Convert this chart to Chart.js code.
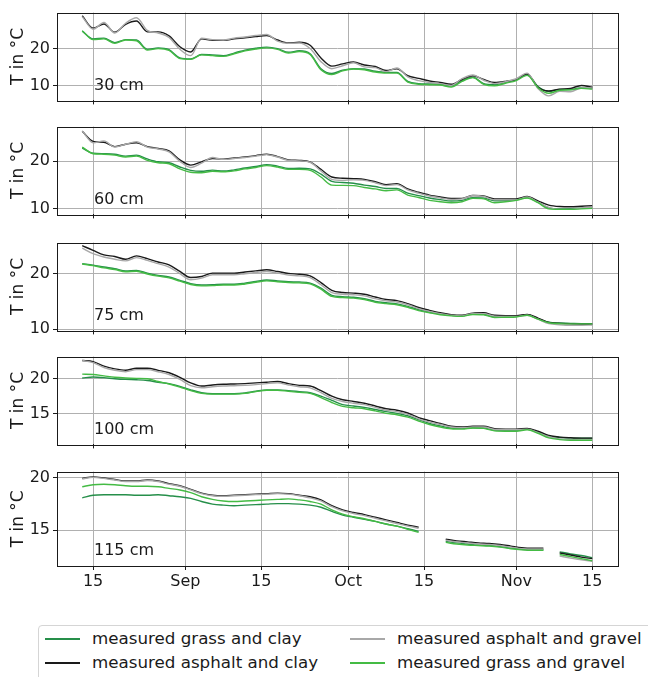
<!DOCTYPE html>
<html>
<head>
<meta charset="utf-8">
<script src="https://cdn.jsdelivr.net/npm/chart.js@4.4.1/dist/chart.umd.min.js"></script>
<style>
  body { margin: 0; background: #fff; width: 648px; height: 677px; overflow: hidden; position: relative; font-family: "DejaVu Sans", sans-serif; }
  canvas.panel { position: absolute; left: 0; }
  #legend { position: absolute; left: 38px; top: 625px; width: 640px; height: 64px; border: 1px solid #d5d5d5; border-radius: 4px; background: #fff; }
  #legend .row { position: absolute; height: 0; }
  #legend .swatch { position: absolute; width: 35px; top: -1px; height: 2px; }
  #legend .txt { position: absolute; top: -11px; font-size: 16.7px; line-height: 21px; color: #1a1a1a; white-space: nowrap; }
</style>
</head>
<body>
<canvas id="p30" class="panel"></canvas>
<canvas id="p60" class="panel"></canvas>
<canvas id="p75" class="panel"></canvas>
<canvas id="p100" class="panel"></canvas>
<canvas id="p115" class="panel"></canvas>
<div id="legend"></div>

<script>
// ---- data ----
// days relative to 15 Aug
const days = [-2,0,2,4,6,8,10,12,14,16,18,20,22,24,26,28,30,32,34,36,38,40,42,44,46,48,50,52,54,56,58,60,62,64,66,68,70,72,74,76,78,80,82,84,86,88,90,92];
// 115 cm has gaps in the record
const days115 = [-2,0,2,4,6,8,10,12,14,16,18,20,22,24,26,28,30,32,34,36,38,40,42,44,46,48,50,52,54,56,58,60,62,65,67,69,71,73,75,77,79,81,83,84.5,86,88,90,92];

const xTicks = [0, 17, 31, 47, 61, 78, 92];
const xTickLabels = ['15', 'Sep', '15', 'Oct', '15', 'Nov', '15'];

const seriesNames = ['measured grass and clay', 'measured asphalt and clay', 'measured asphalt and gravel', 'measured grass and gravel'];
const seriesColors = ['#268f4a', '#1a1a1a', '#a8a8a8', '#44bb44'];

// 30 cm
const grassClay30 = [24.7,22.6,22.8,21.6,22.4,22.3,19.8,20.2,19.7,17.5,17.2,18.4,18.3,18.1,18.8,19.6,20.1,20.4,20.0,19.0,19.4,18.6,14.6,13.3,14.2,14.6,14.5,13.9,13.6,13.6,11.2,10.6,10.5,10.4,10.0,11.4,12.3,10.6,10.3,10.9,11.6,13.0,9.8,8.5,9.0,9.0,9.5,9.3];
const asphaltClay30 = [28.8,25.5,26.6,24.4,26.5,27.4,24.5,24.5,23.4,20.5,19.1,22.6,22.2,22.2,22.6,22.9,23.25,23.5,22.3,21.5,21.7,20.9,17.5,15.3,15.9,16.4,15.6,15.2,14.1,14.6,12.7,12.0,11.3,10.9,10.4,11.7,12.7,11.7,10.9,11.2,11.75,13.2,9.6,8.6,9.1,9.3,10.1,9.6];
const asphaltGravel30 = [28.6,25.2,27.0,24.2,26.8,28.3,24.9,24.2,23.0,19.8,18.1,22.8,22.4,22.3,22.8,23.1,23.5,23.8,22.0,21.4,21.5,20.0,16.5,14.6,15.4,16.2,15.1,14.9,13.8,14.8,12.4,11.4,10.9,10.6,10.1,11.9,12.9,11.5,10.6,11.1,11.9,13.4,9.3,7.3,8.5,8.4,9.4,9.4];
const grassGravel30 = [24.8,22.4,22.6,21.4,22.3,22.1,19.6,20.0,19.5,17.3,17.1,18.3,18.1,17.9,18.6,19.4,19.9,20.2,19.8,18.8,19.2,18.4,14.3,13.0,14.0,14.5,14.3,13.7,13.4,13.4,11.0,10.4,10.3,10.2,9.7,11.2,12.2,10.4,10.0,10.7,11.4,12.8,9.5,8.0,8.8,8.9,9.3,9.1];

// 60 cm
const grassClay60 = [22.8,21.7,21.6,21.5,21.1,21.3,20.5,19.9,19.7,18.8,18.1,17.9,18.15,17.95,18.2,18.6,18.9,19.3,19.0,18.5,18.55,18.4,17.3,15.8,15.55,15.4,15.0,14.7,14.3,14.3,13.3,12.8,12.3,11.95,11.65,11.8,12.35,12.3,11.7,11.75,11.95,12.4,11.4,10.2,10.0,10.05,10.15,10.2];
const asphaltClay60 = [26.3,24.2,24.0,23.1,23.6,23.9,23.1,22.7,22.2,20.3,19.2,19.9,20.6,20.45,20.7,20.9,21.2,21.5,21.0,20.3,20.2,19.9,18.3,16.7,16.45,16.35,16.2,15.7,15.1,15.3,14.2,13.5,12.9,12.5,12.2,12.2,12.8,12.7,12.1,12.1,12.1,12.6,11.7,10.8,10.5,10.45,10.55,10.65];
const asphaltGravel60 = [26.4,23.9,24.3,23.0,23.6,24.1,23.0,22.6,22.0,20.0,18.7,19.6,20.8,20.4,20.6,20.8,21.1,21.4,20.9,20.2,20.1,19.8,18.0,16.2,16.0,16.1,16.0,15.5,14.9,15.1,14.0,13.3,12.7,12.3,12.0,12.1,12.8,12.6,11.9,11.9,11.9,12.5,11.4,10.3,9.9,9.9,10.2,10.4];
const grassGravel60 = [23.0,21.6,21.5,21.3,20.9,21.1,20.2,19.7,19.5,18.4,17.7,17.6,17.9,17.8,18.0,18.4,18.7,19.1,18.8,18.3,18.3,18.1,16.7,15.0,14.95,14.9,14.5,14.2,13.8,14.0,12.9,12.4,11.8,11.5,11.3,11.5,12.2,12.1,11.3,11.5,11.8,12.3,11.3,10.0,9.9,9.9,10.0,10.1];

// 75 cm
const grassClay75 = [21.8,21.55,21.2,20.9,20.5,20.6,20.1,19.7,19.4,18.8,18.2,17.95,18.0,18.1,18.1,18.3,18.6,18.85,18.7,18.55,18.5,18.3,17.4,16.1,15.85,15.75,15.5,15.0,14.75,14.55,14.1,13.5,13.1,12.75,12.5,12.4,12.75,12.7,12.2,12.25,12.3,12.6,11.9,11.25,11.1,11.05,11.0,11.0];
const asphaltClay75 = [25.05,24.2,23.4,23.1,22.6,23.2,22.7,22.1,21.6,20.4,19.3,19.5,20.1,20.1,20.1,20.3,20.5,20.7,20.4,20.05,19.9,19.6,18.4,17.0,16.6,16.5,16.3,15.8,15.35,15.15,14.6,13.9,13.4,12.95,12.6,12.5,12.9,12.95,12.5,12.45,12.45,12.65,12.0,11.2,11.05,10.95,10.9,10.9];
const asphaltGravel75 = [24.6,23.6,23.0,22.6,22.3,22.9,22.4,21.8,21.2,20.0,18.9,19.2,19.8,19.8,19.8,20.0,20.2,20.4,20.1,19.75,19.6,19.3,18.0,16.6,16.3,16.2,16.0,15.5,15.1,14.9,14.4,13.7,13.2,12.8,12.5,12.4,12.8,12.8,12.35,12.3,12.3,12.5,11.8,11.0,10.8,10.7,10.7,10.75];
const grassGravel75 = [21.75,21.45,21.05,20.75,20.35,20.45,19.95,19.55,19.25,18.65,18.05,17.8,17.85,17.95,17.95,18.15,18.45,18.7,18.55,18.4,18.35,18.15,17.2,15.9,15.7,15.6,15.35,14.85,14.6,14.4,13.95,13.35,12.95,12.6,12.4,12.3,12.65,12.6,12.1,12.15,12.2,12.5,11.8,11.15,11.0,10.95,10.95,10.95];

// 100 cm
const grassClay100 = [20.1,20.25,20.15,20.0,19.9,19.85,19.75,19.5,19.3,18.9,18.4,18.0,17.85,17.85,17.85,17.95,18.2,18.4,18.4,18.3,18.15,18.0,17.5,16.9,16.3,16.1,15.9,15.6,15.3,15.05,14.7,14.15,13.6,13.25,12.95,12.9,13.0,12.95,12.65,12.6,12.6,12.8,12.4,11.8,11.6,11.5,11.5,11.5];
const asphaltClay100 = [22.6,22.45,21.8,21.4,21.2,21.5,21.5,21.2,20.85,20.2,19.4,18.95,19.1,19.2,19.25,19.3,19.4,19.5,19.6,19.3,19.05,18.95,18.3,17.5,17.0,16.75,16.5,16.1,15.7,15.5,15.1,14.45,14.0,13.6,13.2,13.1,13.2,13.2,12.85,12.8,12.8,12.9,12.5,11.9,11.65,11.55,11.5,11.5];
const asphaltGravel100 = [22.6,22.3,21.6,21.2,21.0,21.3,21.3,21.0,20.6,19.9,19.0,18.7,18.85,18.95,19.0,19.05,19.15,19.3,19.4,19.1,18.85,18.7,18.0,17.2,16.75,16.5,16.3,15.9,15.5,15.3,14.9,14.25,13.8,13.45,13.1,13.0,13.1,13.1,12.75,12.7,12.7,12.8,12.3,11.7,11.4,11.3,11.25,11.25];
const grassGravel100 = [20.65,20.6,20.4,20.2,20.1,20.05,20.0,19.6,19.25,18.8,18.3,17.9,17.8,17.8,17.8,17.9,18.15,18.35,18.35,18.2,18.05,17.9,17.3,16.6,16.05,15.85,15.7,15.4,15.05,14.85,14.5,13.95,13.45,13.1,12.85,12.8,12.95,12.9,12.55,12.5,12.5,12.7,12.2,11.55,11.3,11.2,11.2,11.2];

// 115 cm (null = no data)
const grassClay115 = [18.1,18.35,18.4,18.4,18.4,18.35,18.35,18.4,18.3,18.2,18.05,17.75,17.5,17.4,17.35,17.4,17.45,17.5,17.55,17.55,17.5,17.4,17.2,16.8,16.45,16.25,16.05,15.85,15.6,15.4,15.15,14.9,null,13.95,13.8,13.7,13.6,13.55,13.45,13.3,13.2,13.15,13.15,null,12.95,12.75,12.6,12.4];
const asphaltClay115 = [19.95,20.1,20.0,19.85,19.7,19.7,19.8,19.7,19.45,19.25,18.9,18.55,18.35,18.3,18.35,18.4,18.45,18.5,18.55,18.5,18.35,18.2,17.9,17.35,16.95,16.7,16.5,16.25,16.0,15.75,15.5,15.3,null,14.15,14.0,13.9,13.8,13.75,13.65,13.5,13.35,13.3,13.3,null,12.85,12.65,12.45,12.3];
const asphaltGravel115 = [19.9,20.05,19.95,19.8,19.65,19.65,19.75,19.65,19.4,19.2,18.85,18.5,18.3,18.25,18.3,18.35,18.4,18.45,18.5,18.45,18.3,18.1,17.8,17.25,16.85,16.6,16.4,16.15,15.9,15.65,15.4,15.2,null,14.05,13.9,13.8,13.7,13.65,13.55,13.4,13.25,13.2,13.2,null,12.55,12.35,12.2,12.05];
const grassGravel115 = [19.15,19.35,19.4,19.35,19.25,19.2,19.2,19.15,19.0,18.85,18.6,18.2,17.95,17.8,17.75,17.8,17.85,17.9,17.95,18.0,17.9,17.75,17.5,16.95,16.55,16.3,16.1,15.85,15.6,15.4,15.1,14.8,null,13.85,13.7,13.6,13.55,13.5,13.4,13.25,13.15,13.1,13.1,null,12.7,12.5,12.3,12.1];

// ---- layout ----
const X_MIN = -6.65, X_MAX = 96.75;
const PAD_T = 12, PLOT_H = 95, Y_AXIS_W = 57, PAD_R = 30;
const TEXT = '#1a1a1a';
Chart.defaults.font.family = '"DejaVu Sans", sans-serif';
Chart.defaults.font.size = 16;
Chart.defaults.color = TEXT;

// box around the axes + depth label
function panelDecor(depth) {
  return {
    id: 'decor',
    afterDraw(chart) {
      const {ctx, chartArea: a} = chart;
      ctx.save();
      ctx.strokeStyle = '#1a1a1a';
      ctx.lineWidth = 1;
      ctx.strokeRect(Math.round(a.left) + 0.5, Math.round(a.top) + 0.5, Math.round(a.right - a.left), Math.round(a.bottom - a.top));
      ctx.fillStyle = TEXT;
      ctx.font = '16px "DejaVu Sans"';
      ctx.textBaseline = 'middle';
      ctx.fillText(depth, a.left + 37, a.bottom - 15);
      ctx.restore();
    }
  };
}

function buildPanel(id, top, depth, xs, values, yMin, yMax, yTicks, isLast) {
  const xh = isLast ? 34 : 6;
  const canvas = document.getElementById(id);
  canvas.width = 648;
  canvas.height = PAD_T + PLOT_H + xh;
  canvas.style.top = (top - PAD_T) + 'px';

  const datasets = values.map(function(arr, i) {
    return {
      label: seriesNames[i],
      data: xs.map(function(x, j) { return {x: x, y: arr[j]}; }),
      borderColor: seriesColors[i],
      borderWidth: 1.4,
      pointRadius: 0,
      cubicInterpolationMode: 'monotone',
      spanGaps: false,
      order: 4 - i
    };
  });

  new Chart(canvas, {
    type: 'line',
    data: { datasets: datasets },
    options: {
      responsive: false,
      animation: false,
      events: [],
      layout: { padding: { top: PAD_T, right: PAD_R, left: 0, bottom: 0 } },
      plugins: { legend: { display: false }, tooltip: { enabled: false } },
      scales: {
        x: {
          type: 'linear',
          min: X_MIN,
          max: X_MAX,
          afterBuildTicks: function(s) { s.ticks = xTicks.map(function(v) { return {value: v}; }); },
          afterFit: function(s) { s.height = xh; },
          border: { display: false },
          grid: { color: '#b0b0b0', lineWidth: 1, tickLength: 4, tickColor: '#1a1a1a' },
          ticks: {
            display: isLast,
            autoSkip: false,
            maxRotation: 0,
            padding: 2,
            callback: function(v) { return xTickLabels[xTicks.indexOf(v)]; }
          }
        },
        y: {
          min: yMin,
          max: yMax,
          afterBuildTicks: function(s) { s.ticks = yTicks.map(function(v) { return {value: v}; }); },
          afterFit: function(s) { s.width = Y_AXIS_W; },
          border: { display: false },
          grid: { color: '#b0b0b0', lineWidth: 1, tickLength: 4, tickColor: '#1a1a1a' },
          ticks: { padding: 3 },
          title: { display: true, text: 'T in °C', font: { size: 17 }, padding: { top: 8, bottom: 0 } }
        }
      }
    },
    plugins: [panelDecor(depth)]
  });
}

buildPanel('p30', 12, '30 cm', days, [grassClay30, asphaltClay30, asphaltGravel30, grassGravel30], 6.08, 29.67, [10, 20], false);
buildPanel('p60', 126, '60 cm', days, [grassClay60, asphaltClay60, asphaltGravel60, grassGravel60], 8.84, 27.3, [10, 20], false);
buildPanel('p75', 242, '75 cm', days, [grassClay75, asphaltClay75, asphaltGravel75, grassGravel75], 9.78, 25.6, [10, 20], false);
buildPanel('p100', 356, '100 cm', days, [grassClay100, asphaltClay100, asphaltGravel100, grassGravel100], 10.61, 23.16, [15, 20], false);
buildPanel('p115', 471, '115 cm', days115, [grassClay115, asphaltClay115, asphaltGravel115, grassGravel115], 11.6, 20.6, [15, 20], true);

// legend, matplotlib style: two columns filled top to bottom
const legend = document.getElementById('legend');
const legendCols = [6, 311];
const legendRows = [13, 37];
seriesNames.forEach(function(name, i) {
  const row = document.createElement('div');
  row.className = 'row';
  row.style.left = legendCols[Math.floor(i / 2)] + 'px';
  row.style.top = legendRows[i % 2] + 'px';
  const sw = document.createElement('div');
  sw.className = 'swatch';
  sw.style.left = '0px';
  sw.style.background = seriesColors[i];
  const t = document.createElement('div');
  t.className = 'txt';
  t.style.left = '47px';
  t.textContent = name;
  row.appendChild(sw);
  row.appendChild(t);
  legend.appendChild(row);
});
</script>
</body>
</html>
